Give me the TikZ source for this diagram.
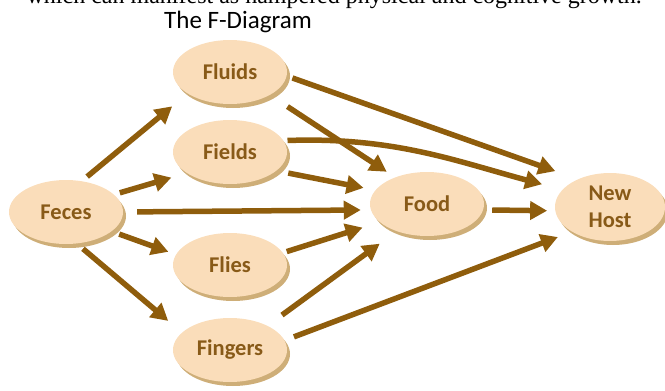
\documentclass[tikz,border=0pt]{standalone}
\usepackage{fontspec}
\setmainfont{Liberation Serif}
\newfontfamily\calibri{Carlito}
\usetikzlibrary{shapes.geometric,shadows,arrows.meta}
\definecolor{peach}{RGB}{250,221,186}
\definecolor{shadowtan}{RGB}{206,174,120}
\definecolor{arrowbrown}{RGB}{143,93,12}
\definecolor{textbrown}{RGB}{136,90,24}
\begin{document}
\begin{tikzpicture}[x=1pt,y=-1pt,
    blob/.style={ellipse, fill=peach, minimum width=114pt, minimum height=64pt,
      inner sep=0pt, text=textbrown, align=center,
      font=\calibri\bfseries\fontsize{22.5}{27}\selectfont,
      drop shadow={shadow xshift=3pt, shadow yshift=-4pt, fill=shadowtan, opacity=1}},
    flow/.style={draw=arrowbrown, line width=5.5pt, -{Triangle[length=17pt,width=18pt]}}]
  \useasboundingbox (0,0) rectangle (665,391);
  \clip (0,0) rectangle (665,391);
  % text cut off by the page edge
  \node[anchor=base east, inner sep=0pt, font=\fontsize{24}{26}\selectfont] (caption) at (642,3.5)
    {which can manifest as hampered physical and cognitive growth.};
  \node[font=\calibri\fontsize{25}{27}\selectfont] (title) at (238,22) {The F-Diagram};
  % the five F's
  \node[blob] (feces) at (66,212) {Feces};
  \node[blob] (fluids) at (230,72) {Fluids};
  \node[blob] (fields) at (230,152) {Fields};
  \node[blob] (flies) at (230,265) {Flies};
  \node[blob] (fingers) at (230,350) {Fingers};
  \node[blob] (food) at (427,204) {Food};
  \node[blob, minimum width=110pt, minimum height=68pt] (host) at (610,207) {New\\Host};
  % routes
  \draw[flow, shorten <=7pt, shorten >=20pt] (feces.63) -- (fluids.207);
  \draw[flow, shorten <=6pt, shorten >=16pt] (feces.20) -- (fields.206);
  \draw[flow, shorten <=14pt, shorten >=10pt] (feces.0) -- (food.186);
  \draw[flow, shorten <=8pt, shorten >=8pt] (feces.-23) -- (flies.169);
  \draw[flow, shorten <=8pt, shorten >=18pt] (feces.-71) -- (fingers.160);
  \draw[flow, shorten <=21pt, shorten >=10pt] (fluids.-30) -- (food.140);
  \draw[flow, shorten <=6pt, shorten >=24pt] (fluids.-4) -- (host.139);
  \draw[flow, shorten <=4pt, shorten >=21pt] (fields.12) to[out=2, in=165] (host.160);
  \draw[flow, shorten <=12pt, shorten >=12pt] (fields.-22) -- (food.165);
  \draw[flow, shorten <=9pt, shorten >=8pt] (food.-6) -- (host.184);
  \draw[flow, shorten <=4pt, shorten >=18pt] (flies.13) -- (food.201);
  \draw[flow, shorten <=18pt, shorten >=21pt] (fingers.33) -- (food.222);
  \draw[flow, shorten <=10pt, shorten >=15pt] (fingers.10) -- (host.213);
\end{tikzpicture}
\end{document}
